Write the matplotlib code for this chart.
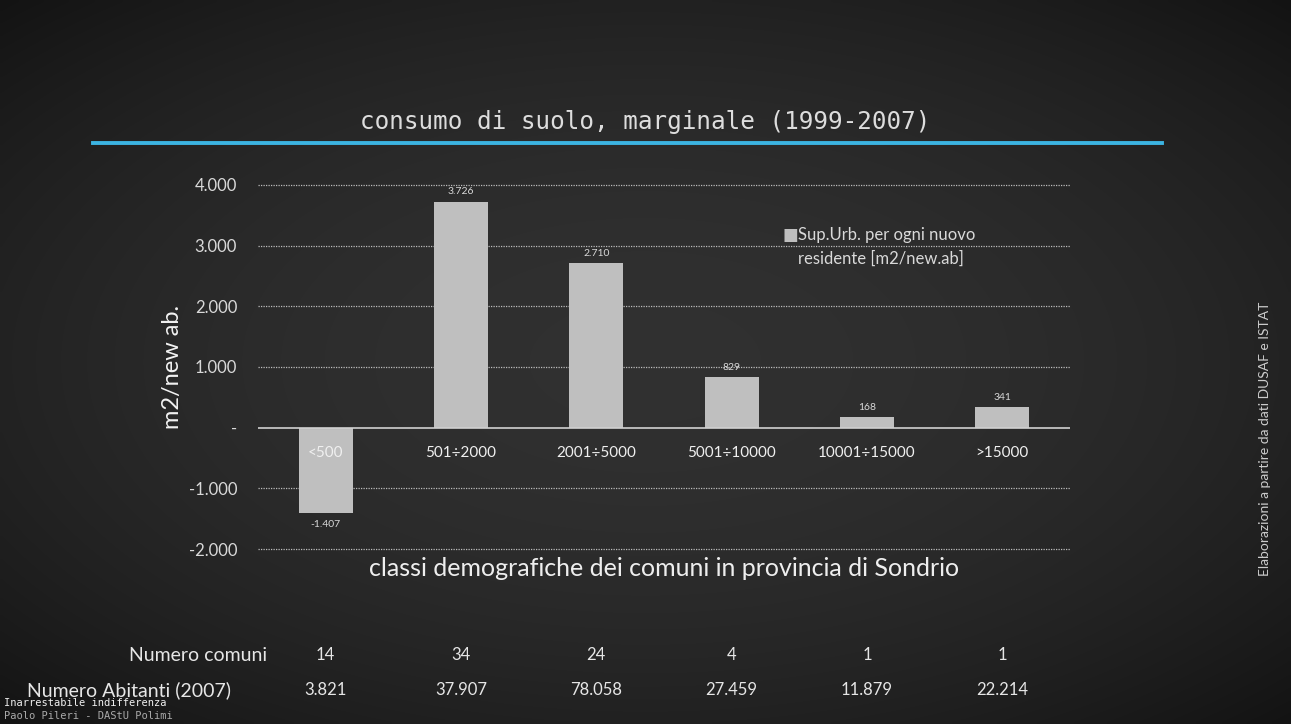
import numpy as np
import matplotlib
matplotlib.use('Agg')
import matplotlib.pyplot as plt
from matplotlib.ticker import FuncFormatter
import matplotlib.transforms as mtransforms

# data
classi = ['<500', '501÷2000', '2001÷5000', '5001÷10000', '10001÷15000', '>15000']
sup_urb = [-1407, 3726, 2710, 829, 168, 341]
num_comuni = ['14', '34', '24', '4', '1', '1']
num_abitanti = ['3.821', '37.907', '78.058', '27.459', '11.879', '22.214']
yticks = [-2000, -1000, 0, 1000, 2000, 3000, 4000]

bg = '#262626'
txt = '#d9d9d9'
bar_c = '#bfbfbf'
plt.rcParams['font.family'] = ['Lato', 'DejaVu Sans']

fig = plt.figure(figsize=(12.91, 7.24), dpi=100)
fig.patch.set_facecolor(bg)

# chalkboard-like vignette behind everything
bg_ax = fig.add_axes([0, 0, 1, 1], zorder=-10)
gx, gy = np.meshgrid(np.linspace(-1, 1, 300), np.linspace(-1, 1, 170))
r = np.clip(np.sqrt((gx / 1.05) ** 2 + (gy / 1.0) ** 2), 0, 1.4)
shade = 0.19 - 0.06 * r ** 2
bg_ax.imshow(np.dstack([shade, shade, shade]), aspect='auto', extent=[0, 1, 0, 1],
             interpolation='bilinear')
bg_ax.set_axis_off()

ax = fig.add_axes([0.1998, 0.2417, 0.6290, 0.5028])
ax.set_facecolor('none')

x = np.arange(len(classi))
bars = ax.bar(x, sup_urb, width=0.4, color=bar_c, zorder=3)
ax.set_xlim(-0.5, len(classi) - 0.5)
ax.set_ylim(-2000, 4000)

def it_fmt(v, pos):
    if v == 0:
        return '-'
    return '{:,.0f}'.format(v).replace(',', '.')

ax.set_yticks(yticks)
ax.yaxis.set_major_formatter(FuncFormatter(it_fmt))
ax.tick_params(axis='y', length=0, colors=txt, labelsize=12, pad=15)
ax.set_xticks([])
for s in ax.spines.values():
    s.set_visible(False)

for v in yticks:
    if v == 0:
        ax.axhline(0, color='#d0d0d0', lw=1.2, zorder=4)
    else:
        ax.axhline(v, color='#bbbbbb', lw=0.9, ls=(0, (1, 1)), zorder=1, clip_on=False)

# data labels
for xi, v in zip(x, sup_urb):
    lab = it_fmt(v, None)
    if v >= 0:
        ax.text(xi, v + 90, lab, ha='center', va='bottom', color=txt, fontsize=7.5)
    else:
        ax.text(xi, v - 120, lab, ha='center', va='top', color=txt, fontsize=7.5)

# category labels just below the zero line
for xi, c in zip(x, classi):
    ax.text(xi, -420, c, ha='center', va='center', color='#f0f0f0', fontsize=11, zorder=5)

ax.set_ylabel('m2/new ab.', color='#f2f2f2', fontsize=17, labelpad=4)
fig.text(0.514, 0.215, 'classi demografiche dei comuni in provincia di Sondrio',
         ha='center', va='center', color='#eeeeee', fontsize=18)

# legend
fig.text(0.6065, 0.675, '■', ha='left', va='center', color=bar_c, fontsize=12)
fig.text(0.618, 0.676, 'Sup.Urb. per ogni nuovo', ha='left', va='center', color=txt, fontsize=12)
fig.text(0.618, 0.643, 'residente [m2/new.ab]', ha='left', va='center', color=txt, fontsize=12)

# title with blue underline
fig.text(0.4995, 0.832, 'consumo di suolo, marginale (1999-2007)', ha='center', va='center',
         color='#dddddd', fontsize=17.5, family='DejaVu Sans Mono')
fig.add_artist(plt.Line2D([0.072, 0.90], [0.803, 0.803], color='#3cb4e2', lw=2.8,
                          transform=fig.transFigure))

# side note
fig.text(0.980, 0.394, 'Elaborazioni a partire da dati DUSAF e ISTAT', rotation=90,
         ha='center', va='center', color='#cccccc', fontsize=10)

# table below the chart
tr = mtransforms.blended_transform_factory(ax.transData, fig.transFigure)
fig.text(0.207, 0.095, 'Numero comuni', ha='right', va='center', color='#e6e6e6', fontsize=14)
fig.text(0.179, 0.047, 'Numero Abitanti (2007)', ha='right', va='center', color='#e6e6e6', fontsize=14)
for xi, n, a in zip(x, num_comuni, num_abitanti):
    fig.text(xi, 0.095, n, transform=tr, ha='center', va='center', color='#e6e6e6', fontsize=12)
    fig.text(xi, 0.047, a, transform=tr, ha='center', va='center', color='#e6e6e6', fontsize=12)

# footer
fig.text(0.003, 0.029, 'Inarrestabile indifferenza', ha='left', va='center',
         color='#f0f0f0', fontsize=7.5, family='DejaVu Sans Mono')
fig.text(0.003, 0.011, 'Paolo Pileri - DAStU Polimi', ha='left', va='center',
         color='#aaaaaa', fontsize=7.5, family='DejaVu Sans Mono')

fig.savefig('out.png', dpi=100, facecolor=bg)
